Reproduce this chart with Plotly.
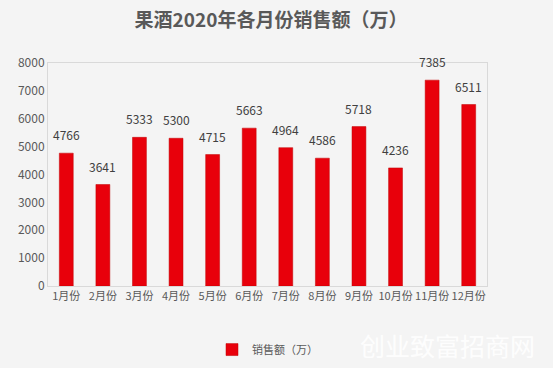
import plotly.graph_objects as go

months = ["1月份", "2月份", "3月份", "4月份", "5月份", "6月份", "7月份", "8月份", "9月份", "10月份", "11月份", "12月份"]
sales = [4766, 3641, 5333, 5300, 4715, 5663, 4964, 4586, 5718, 4236, 7385, 6511]
y_ticks = [0, 1000, 2000, 3000, 4000, 5000, 6000, 7000, 8000]

font_family = "Microsoft YaHei, Noto Sans CJK SC, Noto Sans, sans-serif"

fig = go.Figure()
fig.add_trace(go.Bar(
    x=months, y=sales, name="销售额（万）",
    marker=dict(color="#e8000b", line=dict(color="#c00000", width=0.5)),
    width=0.38,
    showlegend=True,
))
for m, v in zip(months, sales):
    fig.add_annotation(x=m, y=v, text=str(v), showarrow=False, yanchor="bottom", yshift=8,
                       font=dict(size=12, color="#404040", family=font_family))

fig.update_layout(
    width=553, height=368,
    paper_bgcolor="#f4f4f4", plot_bgcolor="#f4f4f4",
    margin=dict(l=48, r=66, t=63, b=82, autoexpand=False),
    title=dict(text="<b>果酒2020年各月份销售额（万）</b>", x=0.49, xanchor="center", y=0.945, yanchor="middle",
               font=dict(size=19, color="#595959", family=font_family)),
    font=dict(family=font_family, color="#595959", size=11),
    showlegend=True,
    legend=dict(orientation="h", x=0.5, xanchor="center", y=-0.22, yanchor="top", itemwidth=30,
                font=dict(size=11, color="#595959"), bgcolor="rgba(0,0,0,0)"),
    bargap=0.6,
)
fig.update_xaxes(showline=True, linecolor="#d9d9d9", mirror=True, ticks="", showgrid=False, tickangle=0,
                 tickfont=dict(size=11, color="#595959"))
fig.update_yaxes(range=[0, 8000], tickvals=y_ticks, showgrid=False, showline=True, linecolor="#d9d9d9",
                 mirror=True, ticks="", tickfont=dict(size=12, color="#595959"), zeroline=False)

fig.add_annotation(text="创业致富招商网", xref="paper", yref="paper", x=1.115, y=-0.265,
                   xanchor="right", yanchor="middle", showarrow=False,
                   font=dict(size=25, color="rgba(255,255,255,0.9)", family=font_family))

fig.write_html("out.html", config={"displayModeBar": False},
               post_script="document.body.style.margin='0';document.body.style.padding='0';")
